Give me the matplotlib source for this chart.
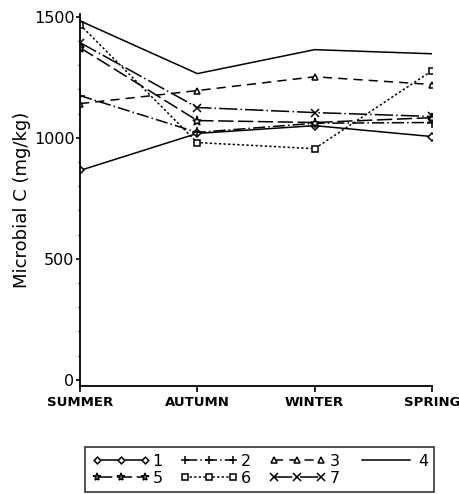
import matplotlib
matplotlib.use("Agg")
import matplotlib.pyplot as plt
from matplotlib.ticker import MultipleLocator

seasons = ["SUMMER", "AUTUMN", "WINTER", "SPRING"]

s1 = [865, 1018, 1050, 1005]
s2 = [1174, 1022, 1060, 1063]
s3 = [1141, 1195, 1252, 1220]
s4 = [1483, 1265, 1364, 1347]
s5 = [1372, 1071, 1063, 1083]
s6 = [1467, 980, 955, 1277]
s7 = [1393, 1125, 1104, 1088]

labels = ["1", "2", "3", "4", "5", "6", "7"]

# marker, linestyle, marker size for each series
styles = [
    ("D", "-", 3.8),
    ("+", (0, (8, 2, 1, 2)), 6.5),
    ("^", (0, (6, 4)), 5),
    ("", "-", 0),
    ("*", (0, (10, 3)), 6.5),
    ("s", (0, (1.5, 1.5)), 5),
    ("x", (0, (12, 2, 1, 2)), 6),
]

plt.rcParams["font.family"] = "DejaVu Sans"

fig = plt.figure(figsize=(4.6, 4.94), dpi=100)
ax = fig.add_axes([0.174, 0.219, 0.765, 0.752])

x = range(len(seasons))
for vals, lab, (mk, ls, ms) in zip([s1, s2, s3, s4, s5, s6, s7], labels, styles):
    ax.plot(x, vals, color="black", lw=1.1, ls=ls, marker=mk, ms=ms,
            mfc="white", mec="black", mew=1.1, label=lab)

ax.set_xlim(0, 3)
ax.set_ylim(-25, 1510)
ax.set_xticks(list(x))
ax.set_xticklabels(seasons, fontsize=9.5, fontweight="bold")
ax.set_yticks([0, 500, 1000, 1500])
ax.yaxis.set_minor_locator(MultipleLocator(100))
ax.tick_params(axis="y", labelsize=11.5, length=3, width=1.2, pad=1)
ax.tick_params(axis="y", which="minor", length=1.5, width=1)
ax.tick_params(axis="x", length=4, width=1.2, pad=3)
ax.set_ylabel("Microbial C (mg/kg)", fontsize=13, labelpad=2)

for side in ("top", "right"):
    ax.spines[side].set_visible(False)
for side in ("left", "bottom"):
    ax.spines[side].set_linewidth(1.3)

handles, labs = ax.get_legend_handles_labels()
# row-wise order for a 4-column legend: 1 2 3 4 / 5 6 7
order = [0, 4, 1, 5, 2, 6, 3]
leg = fig.legend([handles[i] for i in order], [labs[i] for i in order],
                 loc="lower center", bbox_to_anchor=(0.565, 0.0), ncol=4,
                 numpoints=3, handlelength=3.6, handletextpad=0.2,
                 columnspacing=1.1, labelspacing=0.15, fontsize=11.5,
                 frameon=True, fancybox=False, edgecolor="black",
                 borderpad=0.4, borderaxespad=0.1, markerscale=0.9)
leg.get_frame().set_linewidth(1.2)

fig.savefig("out.png", dpi=100)
